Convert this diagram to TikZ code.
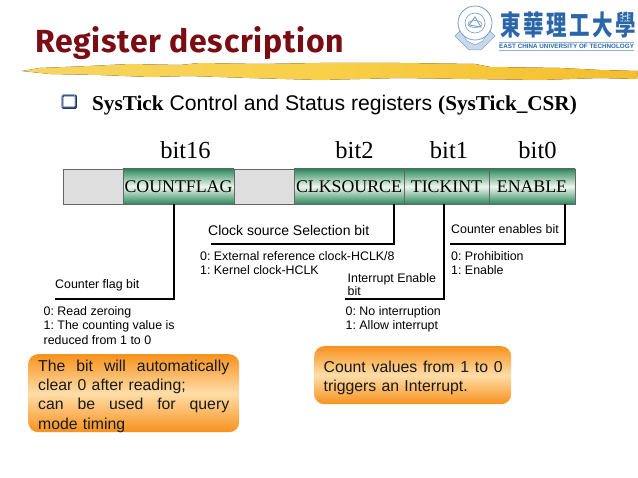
\documentclass[tikz,border=0pt]{standalone}
\usepackage{fontspec}
\setmainfont{Liberation Sans}
\frenchspacing
\newfontfamily\serifb{Liberation Serif}
\newfontfamily\titlef[LetterSpace=2.2]{Fira Sans Bold}
\newfontfamily\cjk{Noto Sans CJK TC}
\usetikzlibrary{shadings,calc}
\definecolor{titlered}{HTML}{7A0C14}
\definecolor{regdark}{HTML}{2F8A5E}
\definecolor{reglight}{HTML}{EEF6EE}
\definecolor{reggray}{HTML}{DEDEDE}
\definecolor{orgdark}{HTML}{F7921E}
\definecolor{orglight}{HTML}{FFDDA8}
\definecolor{logoblue}{HTML}{2A66A8}
\definecolor{bulblue}{HTML}{2F56A8}
\definecolor{brusha}{HTML}{F7D560}
\definecolor{brushb}{HTML}{F8CF48}
\definecolor{brushc}{HTML}{F5BE2C}
\tikzset{
 seg/.style={draw=black!60,line width=0.7pt,minimum height=35pt,inner sep=0pt,outer sep=0pt,anchor=north west},
 greenseg/.style={seg,top color=regdark,bottom color=regdark,middle color=reglight,font=\serifb\fontsize{17.8}{20}\selectfont},
 grayseg/.style={seg,fill=reggray},
 bitlabel/.style={font=\serifb\fontsize{24.5}{26}\selectfont,inner sep=0pt},
 small/.style={font=\fontsize{12.4}{14.6}\selectfont,inner sep=0pt,anchor=north west,align=left},
 head/.style={font=\fontsize{14}{16}\selectfont,inner sep=0pt,anchor=north west,align=left},
 conn/.style={line width=1.4pt,line join=miter},
 orange/.style={rounded corners=10pt,top color=orgdark,bottom color=orgdark,middle color=orglight,inner sep=0pt,anchor=north west},
 boxtext/.style={font=\fontsize{15.8}{19.3}\selectfont,inner sep=0pt,anchor=north west,text=black!90}
}
\begin{document}
\begin{tikzpicture}[x=1pt,y=-1pt]
\useasboundingbox (0,0) rectangle (638,478);
% brush
\fill[left color=brusha,right color=brushc,middle color=brushb]
 (22,71) -- (40,68) -- (90,66) -- (130,64) -- (180,65) -- (200,63) -- (260,64) -- (320,63) -- (400,63) -- (475,64) -- (490,67) -- (560,68) -- (600,70) -- (638,71) -- (637,79) -- (600,78) -- (540,80) -- (470,79) -- (400,78) -- (320,80) -- (250,78) -- (190,76) -- (150,77) -- (100,75) -- (50,74) -- cycle;
\node[inner sep=0pt,anchor=base west,text=titlered,font=\titlef\fontsize{32}{36}\selectfont] (title) at (35,53) {Register description};
% logo
\fill[logoblue!25,draw=logoblue!60,line width=0.5pt] (455,36) -- (461,30) -- (467,41) -- (475,45) -- (483,41) -- (489,30) -- (495,36) -- (481,50) -- (469,50) -- cycle;
\draw[logoblue!65,line width=0.8pt,fill=white] (475,23) circle (17);
\draw[logoblue!65,line width=0.6pt] (475,23) circle (10);
\draw[logoblue!65,line width=0.9pt] (469,25) -- (475,17) -- (481,27) -- cycle;
\draw[logoblue!65,line width=0.6pt] (475,24) ellipse (7 and 3.5);
\node[inner sep=0pt,anchor=base west,text=logoblue,font=\cjk\bfseries\fontsize{20.5}{22}\selectfont] (logotext) at (500,36) {\scalebox{1}[1.35]{東\hspace{2.6pt}華\hspace{2.6pt}理\hspace{2.6pt}工\hspace{2.6pt}大\hspace{2.6pt}學}};
\draw[logoblue!50,line width=0.5pt] (499,42) -- (634,42) (499,50) -- (634,50);
\node[inner sep=0pt,anchor=base west,text=logoblue,font=\bfseries\fontsize{6.3}{7}\selectfont] (logosub) at (499,48.5) {EAST CHINA UNIVERSITY OF TECHNOLOGY};
% bullet
\draw[bulblue!60!black,line width=1.8pt,rounded corners=1pt] (62.5,95.5) rectangle (76,108);
\draw[bulblue!60,line width=1pt,rounded corners=1pt] (62,95) rectangle (75,107);
% subtitle
\node[inner sep=0pt,anchor=base west,font=\fontsize{21.2}{24}\selectfont] (sub) at (92,111) {{\serifb\bfseries SysTick} Control and Status registers {\serifb\bfseries (SysTick\_CSR)}};
% bit labels
\node[bitlabel] (b16) at (185.5,150) {bit16};
\node[bitlabel] (b2) at (354.5,150) {bit2};
\node[bitlabel] (b1) at (449,150) {bit1};
\node[bitlabel] (b0) at (537.5,150) {bit0};
% register
\node[grayseg,minimum width=60pt] (r0) at (63,169) {};
\node[greenseg,minimum width=111pt] (cf) at (123,169) {COUNTFLAG};
\node[grayseg,minimum width=60pt] (r1) at (234,169) {};
\node[greenseg,minimum width=110pt] (clk) at (294,169) {CLKSOURCE};
\node[greenseg,minimum width=85pt] (tick) at (404,169) {TICKINT};
\node[greenseg,minimum width=86pt] (en) at (489,169) {ENABLE};
% connector ends
\coordinate (cfend) at (55,299);
\coordinate (clkend) at (211,244);
\coordinate (tickend) at (345,299);
\coordinate (enend) at (450,244);
\draw[conn] ([xshift=-4.5pt]cf.south) |- (cfend);
\draw[conn] ([xshift=45pt]clk.south) |- (clkend);
\draw[conn] ([xshift=-2.5pt]tick.south) |- (tickend);
\draw[conn] ([xshift=33pt]en.south) |- (enend);
% labels
\node[head] (t1) at (208,225) {Clock source Selection bit};
\node[small] (t2) at (200,251) {0: External reference clock-HCLK/8\\1: Kernel clock-HCLK};
\node[small] (t3) at (451,224) {Counter enables bit};
\node[small] (t4) at (451,251) {0: Prohibition\\1: Enable};
\node[small] (t5) at (55,279) {Counter flag bit};
\node[small] (t6) at (43.5,306) {0: Read zeroing\\1: The counting value is\\reduced from 1 to 0};
\node[small,font=\fontsize{12.4}{13.8}\selectfont] (t7) at (347.5,273) {Interrupt Enable\\bit};
\node[small] (t8) at (345.5,306) {0: No interruption\\1: Allow interrupt};
% orange boxes
\node[orange,minimum width=211pt,minimum height=78pt] (o1) at (28,354) {};
\node[boxtext,text width=191pt,align=left] (o1t) at (38,359.5) {The\hfill bit\hfill will\hfill automatically\\clear 0 after reading;\\can\hfill be\hfill used\hfill for\hfill query\\mode timing};
\node[orange,minimum width=197pt,minimum height=58pt] (o2) at (314,346) {};
\node[boxtext,text width=179pt,align=left] (o2t) at (323.5,361) {Count\hfill values\hfill from\hfill 1\hfill to\hfill 0\\triggers an Interrupt.};
\end{tikzpicture}
\end{document}
